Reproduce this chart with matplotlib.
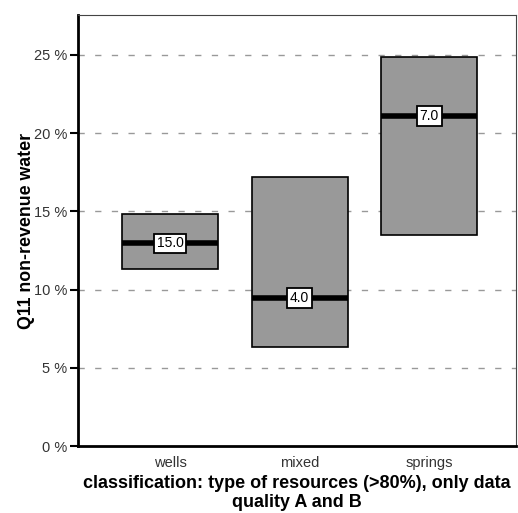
import matplotlib.pyplot as plt

# data
categories = ['wells', 'mixed', 'springs']
lower = [11.3, 6.35, 13.5]
upper = [14.8, 17.2, 24.85]
median = [12.95, 9.45, 21.1]
counts = ['15.0', '4.0', '7.0']
yticks = [0, 5, 10, 15, 20, 25]

plt.rcParams['font.family'] = ['Liberation Sans', 'DejaVu Sans']

fig = plt.figure(figsize=(5.18, 5.13), dpi=100)
ax = fig.add_axes([78 / 518, 1 - 446 / 513, 438 / 518, 431 / 513])

x = range(len(categories))
heights = [u - l for u, l in zip(upper, lower)]
ax.bar(x, heights, bottom=lower, width=0.74, color='#999999',
       edgecolor='black', linewidth=1.2, zorder=3)

for i, m in enumerate(median):
    ax.hlines(m, i - 0.37, i + 0.37, color='black', linewidth=4, zorder=4)
    ax.text(i, m, counts[i], ha='center', va='center', fontsize=10, zorder=5,
            bbox=dict(boxstyle='square,pad=0.2', facecolor='white',
                      edgecolor='black', linewidth=1.3))

ax.set_xlim(-0.71, 2.67)
ax.set_ylim(0, 27.55)
ax.set_xticks(list(x))
ax.set_xticklabels(categories, fontsize=10.5, color='#333333')
ax.tick_params(axis='x', length=0, pad=7)
ax.set_yticks(yticks)
ax.set_yticklabels(['%d %%' % t for t in yticks], fontsize=10.5, color='#333333')
ax.tick_params(axis='y', length=6, width=1.5, direction='out', pad=2)

for t in yticks[1:]:
    ax.axhline(t, color='#999999', linestyle=(0, (4.5, 7.5)), linewidth=1, zorder=1)

ax.spines['left'].set_linewidth(2)
ax.spines['bottom'].set_linewidth(2)
ax.spines['top'].set_color('#444444')
ax.spines['right'].set_color('#444444')

ax.set_ylabel('Q11 non-revenue water', fontsize=12.8, fontweight='bold', labelpad=-1)
ax.set_xlabel('classification: type of resources (>80%), only data\nquality A and B',
              fontsize=13, fontweight='bold', labelpad=4, linespacing=1.15)

plt.savefig('out.png')
